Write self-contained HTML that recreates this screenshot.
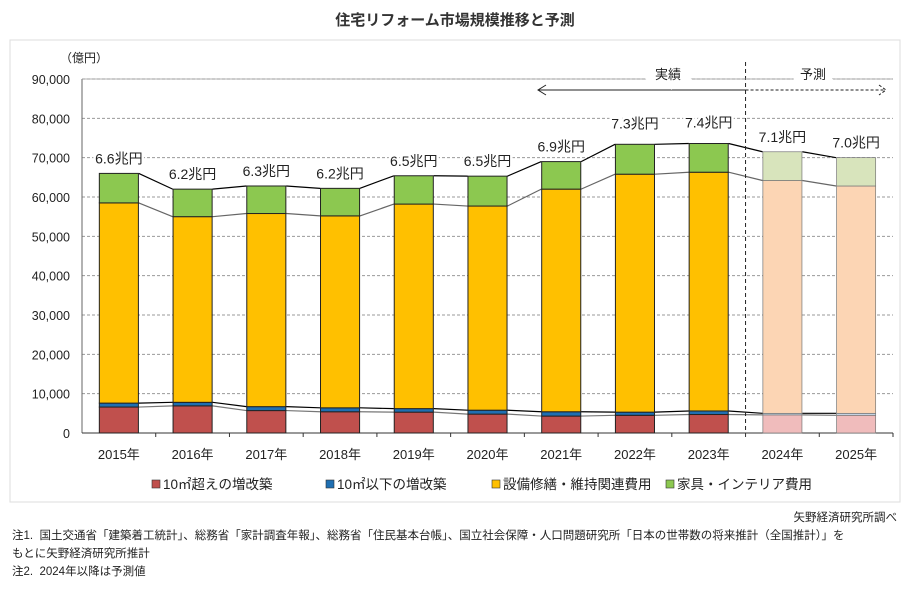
<!DOCTYPE html>
<html><head><meta charset="utf-8">
<style>
body{margin:0;background:#fff;font-family:"Liberation Sans","Noto Sans CJK JP",sans-serif;}
#wrap{position:relative;width:911px;height:590px;overflow:hidden;}
.note{position:absolute;font-size:11.5px;color:#222;white-space:nowrap;}
</style></head><body>
<div id="wrap">
<svg id="chart" width="911" height="505" style="position:absolute;left:0;top:0"></svg>
<div class="note" style="right:14px;top:509px">矢野経済研究所調べ</div>
<div class="note" style="left:12px;top:527px">注1.&nbsp; 国土交通省「建築着工統計」、総務省「家計調査年報」、総務省「住民基本台帳」、国立社会保障・人口問題研究所「日本の世帯数の将来推計（全国推計）」を</div>
<div class="note" style="left:12px;top:545px">もとに矢野経済研究所推計</div>
<div class="note" style="left:12px;top:563px">注2.&nbsp; 2024年以降は予測値</div>
</div>
<script>
const categories=["2015年","2016年","2017年","2018年","2019年","2020年","2021年","2022年","2023年","2024年","2025年"];
const seriesLarge=[6600,6900,5700,5400,5300,4800,4300,4500,4700,4600,4500];
const seriesSmall=[1000,900,1000,1000,900,1000,1100,800,900,400,500];
const seriesEquip=[50900,47200,49100,48800,52000,51900,56600,60500,60700,59200,57800];
const seriesFurn=[7500,7000,7000,7000,7200,7600,7000,7600,7300,7300,7200];
const totalLabels=["6.6兆円","6.2兆円","6.3兆円","6.2兆円","6.5兆円","6.5兆円","6.9兆円","7.3兆円","7.4兆円","7.1兆円","7.0兆円"];
const forecastFrom=9;
const yTicks=[0,10000,20000,30000,40000,50000,60000,70000,80000,90000];
const seriesNames=["10㎡超えの増改築","10㎡以下の増改築","設備修繕・維持関連費用","家具・インテリア費用"];

const NS="http://www.w3.org/2000/svg";
const svg=document.getElementById('chart');
const X0=82,X1=893,Y0=433,Y1=79,YMAX=90000;
const bw=(X1-X0)/categories.length;
const y=v=>Y0-(v/YMAX)*(Y0-Y1);
const xc=i=>X0+bw*(i+0.5);
function el(t,a,p){const e=document.createElementNS(NS,t);for(const k in a)e.setAttribute(k,a[k]);(p||svg).appendChild(e);return e;}
function txt(s,a){const e=el('text',a);e.textContent=s;return e;}

let e;
e=el('rect',{x:10,y:40,width:890,height:462,fill:'none',stroke:'#ddd'});


e=txt('住宅リフォーム市場規模推移と予測',{x:455,y:25,'text-anchor':'middle','font-size':15,'font-weight':'bold',fill:'#333'});


e=txt('（億円）',{x:60,y:62,'font-size':12,fill:'#222'});



yTicks.forEach(t=>{
  if(t>0){e=el('line',{x1:X0,x2:X1,y1:y(t),y2:y(t),stroke:'#999','stroke-dasharray':'3,2','stroke-width':1});
  
  }
  e=txt(t.toLocaleString('en-US'),{x:70,y:y(t)+5,'text-anchor':'end','font-size':12.5,fill:'#222'});
  
  
});
e=el('line',{x1:X0,x2:X0,y1:Y1,y2:Y0,stroke:'#666'});


e=el('line',{x1:X0,x2:X1,y1:Y0,y2:Y0,stroke:'#333'});



const colsA=['#c0504d','#1f6fb2','#ffc000','#8cc850'];
const colsF=['#f0bcbc','#c8d8e8','#fcd5b4','#d8e4bc'];
const series=[seriesLarge,seriesSmall,seriesEquip,seriesFurn];
const segNames=['bar-large-renovation','bar-small-renovation','bar-equipment','bar-furniture'];
const cum=categories.map((c,i)=>{let s=0;return series.map(a=>s+=a[i]);});

[[0,'#777'],[1,'#000'],[2,'#666'],[3,'#000']].forEach(([k,c])=>{
  for(let i=0;i<categories.length-1;i++){
    e=el('line',{x1:xc(i)+bw*0.27,y1:y(cum[i][k]),x2:xc(i+1)-bw*0.27,y2:y(cum[i+1][k]),stroke:c,'stroke-width':1.2});
    
    
  }
});

categories.forEach((c,i)=>{
  const f=i>=forecastFrom;let base=0;
  series.forEach((a,k)=>{
    const top=base+a[i];
    e=el('rect',{x:xc(i)-bw*0.265,y:y(top),width:bw*0.53,height:y(base)-y(top),fill:(f?colsF:colsA)[k],stroke:f?'#777':'#222','stroke-width':f?0.7:1});
    
    
    base=top;
  });
  e=txt(totalLabels[i],{x:xc(i),y:y(cum[i][3])-10-(i>=7&&i<=8?6:0),'text-anchor':'middle','font-size':14,fill:'#222',stroke:'#fff','stroke-width':5,'paint-order':'stroke'});
  
  
  e=txt(c,{x:xc(i),y:459,'text-anchor':'middle','font-size':13,fill:'#222'});
  
  
  e=el('line',{x1:X0+bw*(i+1),x2:X0+bw*(i+1),y1:Y0,y2:Y0+4,stroke:'#333'});
  
  
});

const xd=X0+bw*forecastFrom;
e=el('line',{x1:xd,x2:xd,y1:62,y2:Y0,stroke:'#222','stroke-dasharray':'4,3'});


e=el('line',{x1:X0,x2:X1,y1:79,y2:79,stroke:'#999','stroke-width':0.8});


e=el('path',{d:`M${xd} 90 H538 M546 85 L538 90 L546 95`,stroke:'#222',fill:'none'});


e=el('path',{d:`M${xd} 90 H885 M879 85 L886 90 L879 95`,stroke:'#222',fill:'none','stroke-dasharray':'3,2'});


e=txt('実績',{x:668,y:79,'text-anchor':'middle','font-size':13,fill:'#222',stroke:'#fff','stroke-width':14,'paint-order':'stroke'});


e=txt('予測',{x:813,y:79,'text-anchor':'middle','font-size':13,fill:'#222',stroke:'#fff','stroke-width':14,'paint-order':'stroke'});



const lx=[152,326,492,666];
seriesNames.forEach((n,k)=>{
  e=el('rect',{x:lx[k],y:480,width:8,height:8,fill:colsA[k],stroke:'#333','stroke-width':0.6});
  
  
  e=txt(n,{x:lx[k]+11,y:489,'font-size':13.5,fill:'#222'});
  
  
});
</script>
</body></html>
